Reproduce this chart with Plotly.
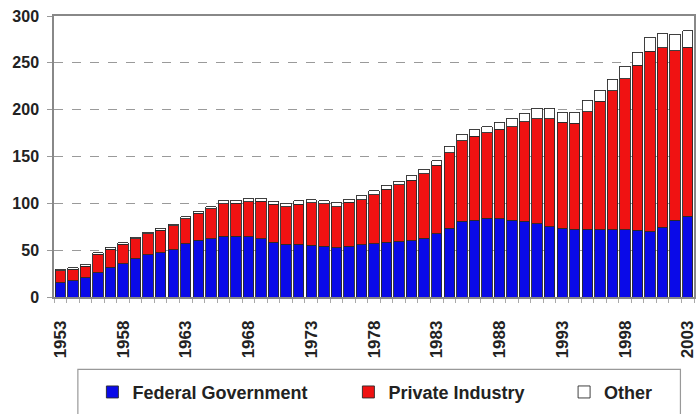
import plotly.graph_objects as go

years = list(range(1953, 2004))

federal = [15.4, 17.1, 20.4, 26.0, 32.0, 35.7, 41.0, 45.0, 47.0, 50.7,
           57.0, 60.7, 62.0, 65.0, 65.0, 64.3, 62.0, 58.5, 56.5, 56.5,
           55.4, 54.3, 52.5, 54.3, 55.8, 57.1, 58.2, 58.9, 60.0, 62.5,
           67.5, 73.5, 81.0, 82.0, 84.0, 83.3, 82.0, 81.0, 78.0, 75.0,
           73.5, 72.3, 72.5, 72.0, 72.0, 72.0, 71.4, 69.6, 74.5, 82.0,
           86.0]

private = [12.6, 12.7, 12.4, 19.5, 19.2, 20.5, 21.0, 22.6, 24.5, 25.5,
           26.8, 28.6, 32.0, 34.8, 35.3, 37.5, 40.0, 40.4, 39.9, 42.4,
           45.3, 45.0, 43.9, 46.9, 48.2, 51.9, 56.8, 61.1, 64.5, 69.2,
           73.2, 80.5, 86.0, 89.7, 91.4, 96.0, 100.0, 106.1, 112.2, 115.5,
           113.3, 113.0, 125.2, 137.0, 148.4, 161.0, 175.8, 192.9, 191.5, 181.0,
           180.4]

other = [1.6, 1.6, 1.5, 1.6, 1.7, 1.7, 1.6, 1.7, 1.7, 1.7,
         1.9, 2.1, 2.4, 2.7, 2.9, 3.2, 3.4, 3.4, 3.6, 3.6,
         2.9, 3.6, 4.3, 3.1, 3.9, 4.4, 4.2, 3.5, 5.1, 4.9,
         4.8, 7.0, 6.7, 6.9, 6.6, 7.1, 8.6, 9.3, 11.2, 10.9,
         10.7, 12.2, 12.3, 11.5, 12.2, 13.4, 14.2, 14.9, 15.2, 17.7,
         17.9]

series_names = ["Federal Government", "Private Industry", "Other"]
tick_years = list(range(1953, 2004, 5))
y_ticks = [0, 50, 100, 150, 200, 250, 300]

FONT = "Liberation Sans, Arial, sans-serif"
outline = dict(color="#2a2a2a", width=0.9)

fig = go.Figure()
fig.add_trace(go.Bar(x=years, y=federal, name=series_names[0],
                     marker=dict(color="#0a0ae8", line=outline), legend="legend"))
fig.add_trace(go.Bar(x=years, y=private, name=series_names[1],
                     marker=dict(color="#f01212", line=outline), legend="legend2"))
fig.add_trace(go.Bar(x=years, y=other, name=series_names[2],
                     marker=dict(color="#ffffff", line=outline), legend="legend3"))

legend_common = dict(orientation="h", yanchor="middle", y=-0.339, xanchor="left",
                     bgcolor="rgba(0,0,0,0)", borderwidth=0,
                     font=dict(family=FONT, size=18, color="#222", weight="bold"))

fig.update_layout(
    width=700, height=414,
    margin=dict(l=54, r=3, t=16, b=116),
    paper_bgcolor="white", plot_bgcolor="white",
    barmode="stack", bargap=0.17,
    showlegend=True,
    legend=dict(x=0.06, **legend_common),
    legend2=dict(x=0.46, **legend_common),
    legend3=dict(x=0.797, **legend_common),
    xaxis=dict(
        range=[1952.5, 2003.5], tickmode="array", tickvals=tick_years,
        ticktext=[str(y) for y in tick_years], tickangle=-90,
        ticks="", ticklabelstandoff=15, ticklabeloverflow="allow",
        tickfont=dict(family=FONT, size=17, color="#222", weight="bold"),
        showgrid=False, showline=True, linecolor="#888", linewidth=1.5, mirror=True,
        minor=dict(tickmode="linear", tick0=1952.5, dtick=1, ticks="outside",
                   ticklen=4, tickcolor="#aaa", showgrid=False),
        zeroline=False,
    ),
    yaxis=dict(
        range=[0, 300], tickmode="array", tickvals=y_ticks,
        ticks="outside", ticklen=5, tickcolor="#999", ticklabelstandoff=5,
        tickfont=dict(family=FONT, size=16, color="#222", weight="bold"),
        showgrid=True, gridcolor="#9a9a9a", gridwidth=1, griddash="dash",
        showline=True, linecolor="#888", linewidth=1.5, mirror=True,
        zeroline=False,
    ),
    shapes=[dict(type="rect", xref="paper", yref="paper",
                 x0=0.0373, x1=0.9788, y0=-0.435, y1=-0.2575,
                 line=dict(color="#999", width=1.2), fillcolor="rgba(0,0,0,0)",
                 layer="above")],
)

fig.write_html("out.html", config={"displayModeBar": False},
               post_script="document.body.style.margin='0';")
